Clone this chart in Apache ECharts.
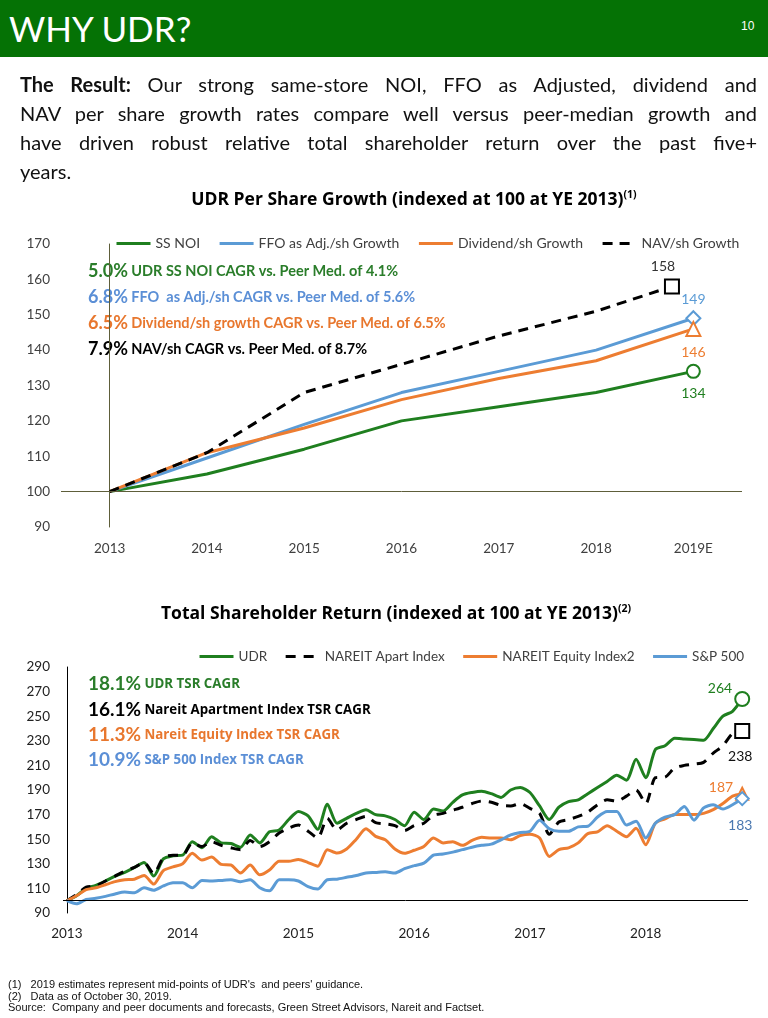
<!DOCTYPE html>
<html>
<head>
<meta charset="utf-8">
<script src="https://cdn.jsdelivr.net/npm/echarts@6/dist/echarts.min.js"></script>
<style>
html,body{margin:0;padding:0;width:768px;height:1018px;overflow:hidden;background:#fff;}
#chart{position:absolute;left:0;top:0;width:768px;height:1018px;}
#header{position:absolute;left:0;top:0;width:768px;height:57px;background:#057205;z-index:2;}
#htitle{position:absolute;left:9px;top:8px;color:#fff;font-family:Lato,sans-serif;font-weight:400;font-size:35px;line-height:40px;}
#pnum{position:absolute;left:741px;top:19px;color:#fff;font-family:'Liberation Sans Narrow','Liberation Sans',sans-serif;font-size:12px;}
#para{position:absolute;left:20px;top:70px;width:737px;font-family:Lato,sans-serif;font-size:20px;line-height:29px;color:#111;z-index:2;}
#para div{text-align:justify;text-align-last:justify;}
#para div.last{text-align:left;text-align-last:left;}
#foot{position:absolute;left:8px;top:979px;font-family:'Liberation Sans Narrow','Liberation Sans',sans-serif;font-size:11px;line-height:11.6px;color:#111;z-index:2;white-space:pre;}
</style>
</head>
<body>
<div id="chart"></div>
<div id="header"><div id="htitle">WHY UDR?</div><div id="pnum">10</div></div>
<div id="para">
<div><b>The Result:</b> Our strong same-store NOI, FFO as Adjusted, dividend and</div>
<div>NAV per share growth rates compare well versus peer-median growth and</div>
<div>have driven robust relative total shareholder return over the past five+</div>
<div class="last">years.</div>
</div>
<div id="foot">(1)   2019 estimates represent mid-points of UDR's  and peers' guidance.
(2)   Data as of October 30, 2019.
Source:  Company and peer documents and forecasts, Green Street Advisors, Nareit and Factset.</div>
<script>
// ---------- Chart 1: UDR Per Share Growth ----------
const growthYears = ['2013', '2014', '2015', '2016', '2017', '2018', '2019E'];
const growthX = [0, 1, 2, 3, 4, 5, 6];
const navX = [0, 1, 2, 3, 4, 5, 5.78];
const ssNoi = [100, 105, 112, 120, 124, 128, 134];
const ffoAdj = [100, 109.5, 119, 128, 134, 140, 149];
const dividend = [100, 111, 118, 126, 132, 137, 146];
const navSh = [100, 111, 128, 136, 144, 151, 158];

// ---------- Chart 2: Total Shareholder Return (monthly, YE2013 .. Oct 2019) ----------
const tsrTickMonths = [0, 12, 24, 36, 48, 60];
const tsrTickLabels = ['2013', '2014', '2015', '2016', '2017', '2018'];
const udr = [100,104,110,112.5,116,120,123,127,131,120,134,136.5,137,148,143,152,147,146.5,143.5,153.5,147,156,157.5,166,172.5,169,158,178.5,163,167,171,174,170,169,166,161,172,166,174.5,173,180,186,188,189,187,184,190,192,188,177,166,176,180.5,182,187,192,197,202,198,215,200,223,226,232,231.5,231,230.5,240,250,254,264];
const nareitApt = [100,105,111,112,116,120,124,127,131,122,135,137,137,147,144,148,145,143,141.5,149,144,148,155,159,161.5,156.5,151,167,157.5,163,166,168.5,163.5,162.5,161,157,161,163,169.5,171,173.5,176,179,181,180,177.5,177,179,175,171,154,164,166,168.5,172,178,182,181,185,190,179,200,200.5,208,210,211,212.5,220,226,236,238];
const nareitEquity = [100,104,109,110.5,113,115.5,117,117.5,120.5,113.5,124.5,127.5,130,138.5,133,135.5,129.5,129,122.5,129,121,125,132,132,133.5,131,128,141.5,138.8,142,150,158.5,152.3,149.5,142,138.5,141,144,151,147,148,145,149,151.5,151,151,149.5,153,154,151,136,141.5,143,147,154.5,156,161,156.5,152,159,145.5,163,166.5,170,170,170,171,174,179,185,187];
const sp500 = [100,97.5,101,102,103.5,105.5,107,106.5,110.5,108.5,112,114.5,114.5,110.5,116.5,116,116.5,117,115.5,117,110.5,108,117,117,116,111.5,109.5,117,117.5,119,120.5,122.5,123,123.5,122.5,126,128.5,130.5,137,138,139.5,141.5,143.5,145,146,149.5,153.5,155.5,156.5,165.5,158.5,156.5,156.5,160,160.5,168,172.5,172.5,161.5,164.5,151,163,168,170,176.5,165.5,175.5,178,174.5,178,183];

const GREEN = '#1F7F1F', BLUE = '#5B9BD5', ORANGE = '#ED7D31', BLACK = '#000000';
const TXT = '#404040';
const FONT = 'Lato, "Open Sans", sans-serif';
const FONT2 = '"Open Sans", Lato, sans-serif';

function lineData(xs, ys, end) {
  return ys.map(function (v, i) {
    if (i === ys.length - 1) {
      return Object.assign({ value: [xs[i], v] }, end);
    }
    return [xs[i], v];
  });
}
function endLabel(color, position, distance, offset) {
  return {
    show: true, position: position, distance: distance, offset: offset || [0, 0],
    color: color, fontSize: 14, fontFamily: FONT,
    formatter: function (p) { return String(p.value[1]); }
  };
}
function monthsX(arr) { return arr.map(function (_, i) { return i; }); }

function annot(x, y, big, small, color, bigSize, smallSize, smallFont) {
  return {
    type: 'text', x: x, y: y, silent: true,
    style: {
      text: '{a|' + big + '} {b|' + small + '}',
      align: 'left', verticalAlign: 'middle',
      rich: {
        a: { fontFamily: FONT, fontWeight: 'bold', fontSize: bigSize, fill: color, lineHeight: bigSize + 4 },
        b: { fontFamily: smallFont, fontWeight: 'bold', fontSize: smallSize, fill: color, lineHeight: bigSize + 4 }
      }
    }
  };
}

const chart = echarts.init(document.getElementById('chart'), null, { renderer: 'canvas' });

const baseLine = function (color) {
  return {
    silent: true, symbol: 'none', animation: false,
    label: { show: false },
    lineStyle: { color: color, width: 1, type: 'solid' },
    data: [{ yAxis: 100 }]
  };
};

const option = {
  animation: false,
  textStyle: { fontFamily: FONT },
  grid: [
    { left: 61, right: 26, top: 244, bottom: 491 },
    { left: 63, right: 20, top: 667, bottom: 105 }
  ],
  xAxis: [
    {
      gridIndex: 0, type: 'value', min: -0.5, max: 6.5,
      axisLine: { show: false }, axisTick: { show: false }, splitLine: { show: false },
      axisLabel: {
        customValues: growthX, margin: 15, color: TXT, fontSize: 13.5, fontFamily: FONT,
        formatter: function (v) { return growthYears[Math.round(v)]; }
      }
    },
    {
      gridIndex: 1, type: 'value', min: -0.4, max: 70.6,
      axisLine: { show: false }, axisTick: { show: false }, splitLine: { show: false },
      axisLabel: {
        customValues: tsrTickMonths, margin: 14, color: '#222', fontSize: 13.5, fontFamily: FONT,
        formatter: function (v) { return tsrTickLabels[tsrTickMonths.indexOf(Math.round(v))]; }
      }
    }
  ],
  yAxis: [
    {
      gridIndex: 0, type: 'value', min: 90, max: 170, interval: 10,
      axisLine: { show: true, lineStyle: { color: '#5E5E3A', width: 1 } },
      axisTick: { show: false }, splitLine: { show: false },
      axisLabel: { color: TXT, fontSize: 13.5, fontFamily: FONT, margin: 11 }
    },
    {
      gridIndex: 1, type: 'value', min: 90, max: 290, interval: 20,
      axisLine: { show: true, lineStyle: { color: '#000', width: 1 } },
      axisTick: { show: false }, splitLine: { show: false },
      axisLabel: { color: '#222', fontSize: 13.5, fontFamily: FONT, margin: 13 }
    }
  ],
  legend: [
    {
      left: 115, top: 236.5, padding: 0, itemWidth: 34, itemHeight: 3, itemGap: 18,
      textStyle: { color: TXT, fontSize: 14, fontFamily: FONT },
      lineStyle: { width: 3 }, itemStyle: { opacity: 0 },
      data: ['SS NOI', 'FFO as Adj./sh Growth', 'Dividend/sh Growth', 'NAV/sh Growth']
    },
    {
      left: 198, top: 649.5, padding: 0, itemWidth: 34, itemHeight: 3, itemGap: 17,
      textStyle: { color: TXT, fontSize: 13.5, fontFamily: FONT },
      lineStyle: { width: 3 }, itemStyle: { opacity: 0 },
      data: ['UDR', 'NAREIT Apart Index', 'NAREIT Equity Index2', 'S&P 500']
    }
  ],
  series: [
    {
      name: 'SS NOI', type: 'line', xAxisIndex: 0, yAxisIndex: 0,
      symbol: 'none', showSymbol: true, silent: true,
      lineStyle: { color: GREEN, width: 3 }, itemStyle: { color: GREEN },
      data: lineData(growthX, ssNoi, { symbol: 'emptyCircle', symbolSize: 13, label: endLabel(GREEN, 'bottom', 8) }),
      markLine: baseLine('#5E5E3A')
    },
    {
      name: 'FFO as Adj./sh Growth', type: 'line', xAxisIndex: 0, yAxisIndex: 0,
      symbol: 'none', showSymbol: true, silent: true,
      lineStyle: { color: BLUE, width: 3 }, itemStyle: { color: BLUE },
      data: lineData(growthX, ffoAdj, { symbol: 'emptyDiamond', symbolSize: 14, label: endLabel(BLUE, 'top', 4) })
    },
    {
      name: 'Dividend/sh Growth', type: 'line', xAxisIndex: 0, yAxisIndex: 0,
      symbol: 'none', showSymbol: true, silent: true,
      lineStyle: { color: ORANGE, width: 3 }, itemStyle: { color: ORANGE },
      data: lineData(growthX, dividend, { symbol: 'emptyTriangle', symbolSize: 14, label: endLabel(ORANGE, 'bottom', 9) })
    },
    {
      name: 'NAV/sh Growth', type: 'line', xAxisIndex: 0, yAxisIndex: 0,
      symbol: 'none', showSymbol: true, silent: true,
      lineStyle: { color: BLACK, width: 3, type: [10, 7] }, itemStyle: { color: BLACK },
      data: lineData(navX, navSh, { symbol: 'emptyRect', symbolSize: 14, label: endLabel('#333', 'top', 5, [-9, 0]) })
    },
    {
      name: 'UDR', type: 'line', xAxisIndex: 1, yAxisIndex: 1,
      symbol: 'none', showSymbol: true, silent: true, smooth: 0.25,
      lineStyle: { color: GREEN, width: 3 }, itemStyle: { color: GREEN },
      data: lineData(monthsX(udr), udr, { symbol: 'emptyCircle', symbolSize: 14, label: endLabel(GREEN, 'left', 2, [0, -10]) }),
      markLine: baseLine('#000')
    },
    {
      name: 'NAREIT Apart Index', type: 'line', xAxisIndex: 1, yAxisIndex: 1,
      symbol: 'none', showSymbol: true, silent: true, smooth: 0.25,
      lineStyle: { color: BLACK, width: 3, type: [10, 8] }, itemStyle: { color: BLACK },
      data: lineData(monthsX(nareitApt), nareitApt, { symbol: 'emptyRect', symbolSize: 14, label: endLabel('#111', 'bottom', 11, [-2, 0]) })
    },
    {
      name: 'NAREIT Equity Index2', type: 'line', xAxisIndex: 1, yAxisIndex: 1,
      symbol: 'none', showSymbol: true, silent: true, smooth: 0.25,
      lineStyle: { color: ORANGE, width: 3 }, itemStyle: { color: ORANGE },
      data: lineData(monthsX(nareitEquity), nareitEquity, { symbol: 'emptyTriangle', symbolSize: 12, label: endLabel(ORANGE, 'left', 2, [0, -6]) })
    },
    {
      name: 'S&P 500', type: 'line', xAxisIndex: 1, yAxisIndex: 1,
      symbol: 'none', showSymbol: true, silent: true, smooth: 0.25,
      lineStyle: { color: BLUE, width: 3 }, itemStyle: { color: BLUE },
      data: lineData(monthsX(sp500), sp500, { symbol: 'emptyDiamond', symbolSize: 13, label: endLabel('#4A78B0', 'bottom', 12, [-2, 0]) })
    }
  ],
  graphic: [
    {
      type: 'text', x: 414, y: 200, silent: true,
      style: {
        text: '{t|UDR Per Share Growth (indexed at 100 at YE 2013)}{s|(1)}',
        align: 'center', verticalAlign: 'middle',
        rich: {
          t: { fontFamily: FONT2, fontWeight: 'bold', fontSize: 17.5, fill: '#000', lineHeight: 21 },
          s: { fontFamily: FONT2, fontWeight: 'bold', fontSize: 10.5, fill: '#000', verticalAlign: 'top', lineHeight: 12 }
        }
      }
    },
    {
      type: 'text', x: 396, y: 614, silent: true,
      style: {
        text: '{t|Total Shareholder Return (indexed at 100 at YE 2013)}{s|(2)}',
        align: 'center', verticalAlign: 'middle',
        rich: {
          t: { fontFamily: FONT2, fontWeight: 'bold', fontSize: 17.5, fill: '#000', lineHeight: 21 },
          s: { fontFamily: FONT2, fontWeight: 'bold', fontSize: 10.5, fill: '#000', verticalAlign: 'top', lineHeight: 12 }
        }
      }
    },
    annot(88, 271, '5.0%', 'UDR SS NOI CAGR vs. Peer Med. of 4.1%', '#2A7D2A', 18, 14.5, FONT),
    annot(88, 297, '6.8%', 'FFO  as Adj./sh CAGR vs. Peer Med. of 5.6%', '#5B8FD6', 18, 14.5, FONT),
    annot(88, 323, '6.5%', 'Dividend/sh growth CAGR vs. Peer Med. of 6.5%', '#E8772E', 18, 14.5, FONT),
    annot(88, 349, '7.9%', 'NAV/sh CAGR vs. Peer Med. of 8.7%', '#000', 18, 14.5, FONT),
    annot(88, 684, '18.1%', 'UDR TSR CAGR', '#2A7D2A', 19, 13.3, FONT2),
    annot(88, 710, '16.1%', 'Nareit Apartment Index TSR CAGR', '#000', 19, 13.3, FONT2),
    annot(88, 735, '11.3%', 'Nareit Equity Index TSR CAGR', '#E8772E', 19, 13.3, FONT2),
    annot(88, 760, '10.9%', 'S&P 500 Index TSR CAGR', '#5B8FD6', 19, 13.3, FONT2)
  ]
};

chart.setOption(option);
</script>
</body>
</html>
